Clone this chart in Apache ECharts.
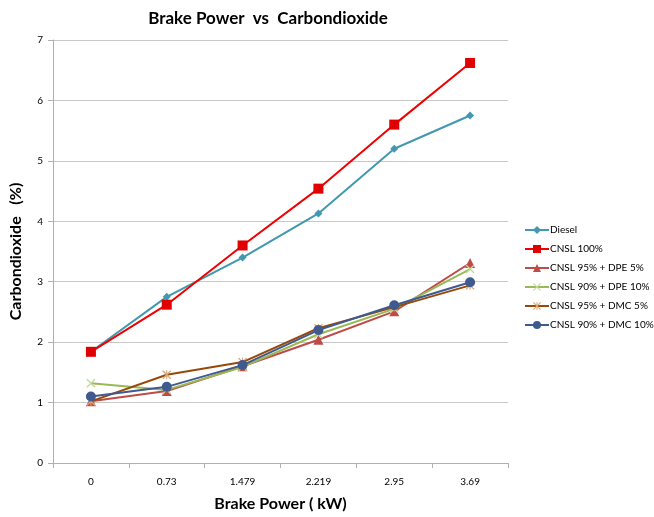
<!DOCTYPE html>
<html><head><meta charset="utf-8">
<script src="https://cdn.jsdelivr.net/npm/echarts@6/dist/echarts.min.js"></script>
<style>html,body{margin:0;padding:0;background:#fff}#c{width:654px;height:517px}</style>
</head><body><div id="c"></div>
<script>
var categories = ['0', '0.73', '1.479', '2.219', '2.95', '3.69'];
var diesel = [1.84, 2.75, 3.40, 4.13, 5.20, 5.75];
var cnsl100 = [1.84, 2.62, 3.60, 4.54, 5.60, 6.62];
var dpe5 = [1.02, 1.19, 1.60, 2.04, 2.51, 3.31];
var dpe10 = [1.32, 1.21, 1.59, 2.13, 2.55, 3.21];
var dmc5 = [1.02, 1.46, 1.67, 2.23, 2.58, 2.94];
var dmc10 = [1.10, 1.26, 1.62, 2.20, 2.61, 2.99];
var yTicks = [0, 1, 2, 3, 4, 5, 6, 7];

var font = 'Lato, "DejaVu Sans", sans-serif';
var xPath = 'path://M0,1L1,0L5,4L9,0L10,1L6,5L10,9L9,10L5,6L1,10L0,9L4,5Z';
var starPath = 'path://M0,1L1,0L5,4L9,0L10,1L6,5L10,9L9,10L5,6L1,10L0,9L4,5Z M4.4,0L5.6,0L5.6,10L4.4,10Z';

function mk(name, data, color, symbol, size, symColor) {
  return {
    name: name, type: 'line', data: data, symbol: symbol, symbolSize: size,
    lineStyle: {color: color, width: 2},
    itemStyle: {color: symColor || color, borderWidth: 0},
    emphasis: {disabled: true}, animation: false
  };
}

var chart = echarts.init(document.getElementById('c'), null, {renderer: 'canvas'});
chart.setOption({
  animation: false,
  title: {text: 'Brake Power  vs  Carbondioxide', left: 263, top: 5, textAlign: 'center',
    textStyle: {fontFamily: font, fontSize: 17, fontWeight: 'bold', color: '#000'}},
  grid: {left: 47, right: 146, top: 40, bottom: 51},
  legend: {
    orient: 'vertical', left: 519, top: 220, itemGap: 9, itemWidth: 24, itemHeight: 10,
    textStyle: {fontFamily: font, fontSize: 10, color: '#000', padding: [0, 0, 0, -4]},
    data: ['Diesel', 'CNSL 100%', 'CNSL 95% + DPE 5%', 'CNSL 90% + DPE 10%', 'CNSL 95% + DMC 5%', 'CNSL 90% + DMC 10%']
  },
  xAxis: {
    type: 'category', data: categories, boundaryGap: true,
    name: 'Brake Power ( kW)', nameLocation: 'middle', nameGap: 33,
    nameTextStyle: {fontFamily: font, fontSize: 16, fontWeight: 'bold', color: '#000'},
    axisLine: {lineStyle: {color: '#b0b0b0', width: 1}},
    axisTick: {show: true, length: 5, lineStyle: {color: '#b0b0b0'}},
    axisLabel: {fontFamily: font, fontSize: 10, color: '#000', margin: 14},
    splitLine: {show: false}
  },
  yAxis: {
    type: 'value', min: 0, max: 7, interval: 1,
    name: 'Carbondioxide   (%)', nameLocation: 'middle', nameGap: 29,
    nameTextStyle: {fontFamily: font, fontSize: 16, fontWeight: 'bold', color: '#000'},
    axisLine: {show: true, lineStyle: {color: '#b0b0b0', width: 1}},
    axisTick: {show: true, length: 5, lineStyle: {color: '#b0b0b0'}},
    axisLabel: {fontFamily: font, fontSize: 10, color: '#000', margin: 10,
      formatter: function (v) { return yTicks.indexOf(v) >= 0 ? String(v) : ''; }},
    splitLine: {lineStyle: {color: '#c8c8c8', width: 1}}
  },
  series: [
    mk('Diesel', diesel, '#4198AF', 'diamond', 8),
    mk('CNSL 100%', cnsl100, '#F00000', 'rect', 10, '#E00000'),
    mk('CNSL 95% + DPE 5%', dpe5, '#BE4B48', 'triangle', 10),
    mk('CNSL 90% + DPE 10%', dpe10, '#98B954', xPath, 9, '#C4D79B'),
    mk('CNSL 95% + DMC 5%', dmc5, '#984807', starPath, 9, '#D8A878'),
    mk('CNSL 90% + DMC 10%', dmc10, '#3F5A8F', 'circle', 10)
  ]
});
</script></body></html>
